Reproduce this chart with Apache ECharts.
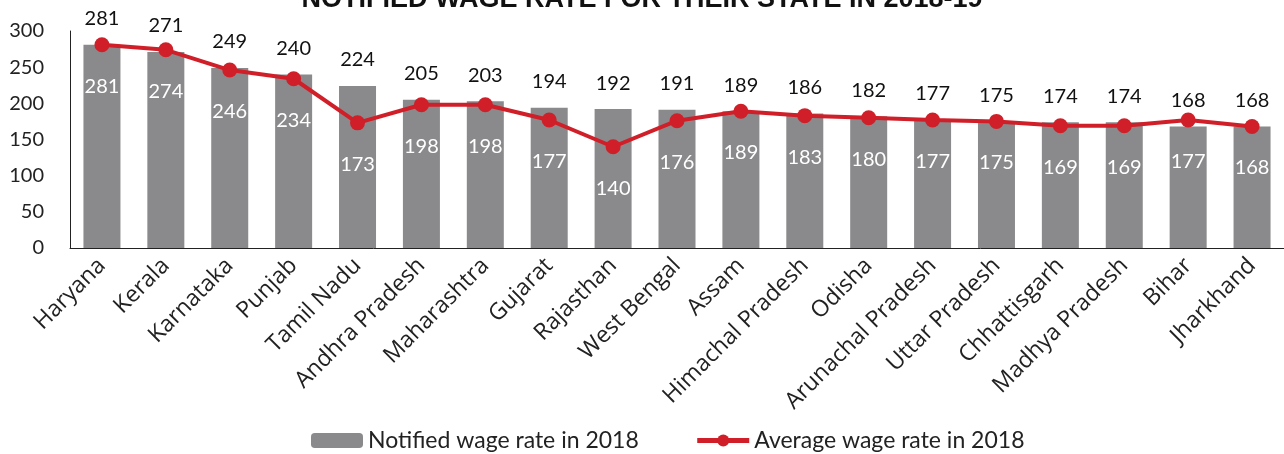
<!DOCTYPE html>
<html lang="en">
<head>
    <meta charset="UTF-8">
    <title>Notified wage rate</title>
    <style>
        html, body { margin: 0; padding: 0; background: #fff; }
        #chart { width: 1284px; height: 454px; }
    </style>
</head>
<body>
<div id="chart"></div>
<script src="https://cdn.jsdelivr.net/npm/echarts@6/dist/echarts.min.js"></script>
<script>
    // 数据
    var states = ['Haryana', 'Kerala', 'Karnataka', 'Punjab', 'Tamil Nadu', 'Andhra Pradesh', 'Maharashtra',
        'Gujarat', 'Rajasthan', 'West Bengal', 'Assam', 'Himachal Pradesh', 'Odisha', 'Arunachal Pradesh',
        'Uttar Pradesh', 'Chhattisgarh', 'Madhya Pradesh', 'Bihar', 'Jharkhand'];
    var notified_2018 = [281, 271, 249, 240, 224, 205, 203, 194, 192, 191, 189, 186, 182, 177, 175, 174, 174, 168, 168];
    var average_2018 = [281, 274, 246, 234, 173, 198, 198, 177, 140, 176, 189, 183, 180, 177, 175, 169, 169, 177, 168];
    var y_ticks = [0, 50, 100, 150, 200, 250, 300];

    var font = 'Lato';
    var red = '#d01f28';
    var myChart = echarts.init(document.getElementById('chart'));

    var option = {
        animation: false,
        title: {
            text: 'NOTIFIED WAGE RATE FOR THEIR STATE IN 2018-19',
            left: 'center',
            top: -19,
            textStyle: {
                fontFamily: 'Liberation Sans',
                fontWeight: 'bold',
                fontSize: 27,
                color: '#111'
            }
        },
        legend: {
            bottom: -3,
            left: 306,
            itemWidth: 52,
            itemHeight: 15,
            itemGap: 56,
            textStyle: { fontFamily: font, fontSize: 23, color: '#222' },
            data: [
                { name: 'Notified wage rate in 2018' },
                { name: 'Average wage rate in 2018', lineStyle: { width: 5, color: red } }
            ]
        },
        grid: {
            left: 70,
            right: 0,
            top: 31,
            bottom: 206
        },
        xAxis: {
            type: 'category',
            data: states,
            axisLine: { lineStyle: { color: '#222', width: 1 } },
            axisTick: { show: false },
            axisLabel: {
                rotate: 45,
                interval: 0,
                margin: 14,
                fontFamily: 'Open Sans',
                fontSize: 23,
                color: '#222'
            }
        },
        yAxis: {
            type: 'value',
            min: y_ticks[0],
            max: y_ticks[y_ticks.length - 1],
            interval: 50,
            axisLine: { show: true, lineStyle: { color: '#222', width: 1 } },
            axisTick: { show: false },
            splitLine: { show: false },
            axisLabel: {
                margin: 26,
                fontFamily: font,
                fontSize: 20,
                color: '#222'
            }
        },
        series: [
            {
                name: 'Notified wage rate in 2018',
                type: 'bar',
                data: notified_2018,
                barWidth: 37,
                itemStyle: { color: '#8a8a8c' },
                label: {
                    show: true,
                    position: 'top',
                    distance: 16,
                    fontFamily: font,
                    fontSize: 20,
                    color: '#111'
                }
            },
            {
                name: 'Average wage rate in 2018',
                type: 'line',
                data: average_2018,
                symbol: 'circle',
                symbolSize: 15,
                lineStyle: { color: red, width: 4 },
                itemStyle: { color: red },
                label: {
                    show: true,
                    position: 'bottom',
                    distance: 24,
                    fontFamily: font,
                    fontSize: 20,
                    color: '#fff'
                }
            }
        ]
    };

    myChart.setOption(option);
</script>
</body>
</html>
